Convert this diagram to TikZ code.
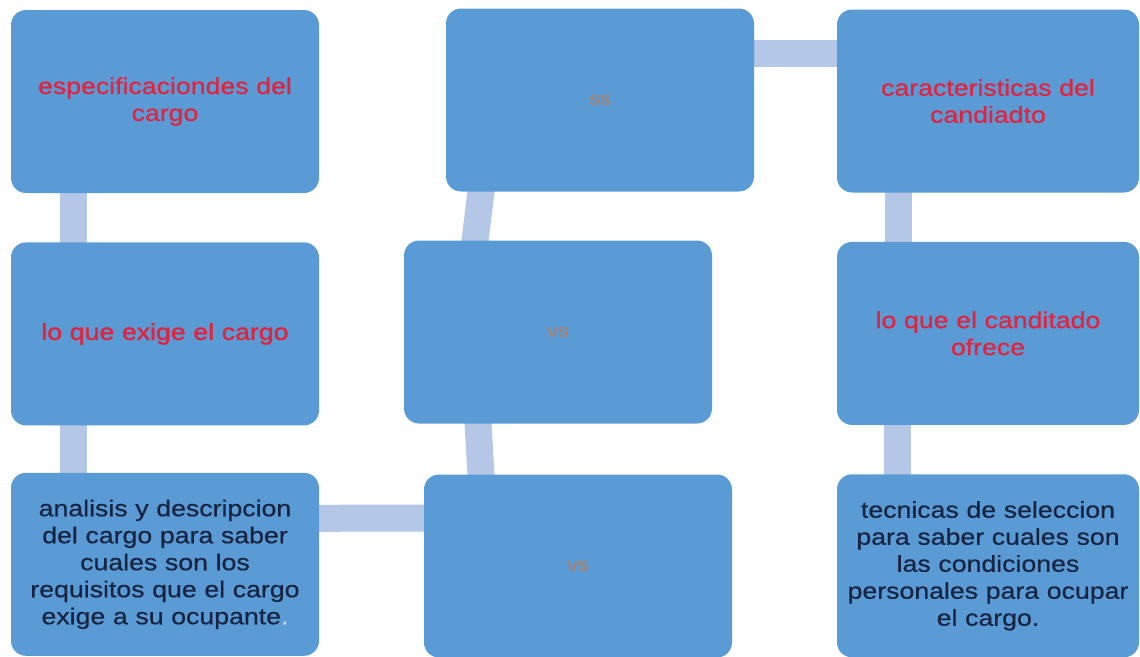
\documentclass[tikz,border=0pt]{standalone}
\usepackage{fontspec}
\usepackage{xcolor}
\newfontfamily\cardfont{Liberation Sans}[FakeStretch=1.16,FakeBold=0.6]
\newfontfamily\cardfontheavy{Liberation Sans}[FakeStretch=1.16,FakeBold=1.6]
\usetikzlibrary{positioning,backgrounds}
\definecolor{cardblue}{HTML}{5B9BD5}
\definecolor{linkblue}{HTML}{B4C7E7}
\definecolor{headred}{HTML}{E0243F}
\definecolor{notenavy}{HTML}{172542}
\definecolor{vsgray}{HTML}{A8826E}
\definecolor{dotlight}{HTML}{C8D8F0}

\begin{document}
\begin{tikzpicture}[x=1pt,y=-1pt,
        card/.style={fill=cardblue, rounded corners=15pt, minimum width=308pt, minimum height=183pt,
            inner sep=0pt, text width=296pt, align=center, font=\cardfont\fontsize{23}{27}\selectfont},
        head/.style={card, text=headred},
        note/.style={card, text=notenavy},
        versus/.style={card, text=vsgray, font=\cardfont\fontsize{19}{21}\selectfont},
        link/.style={linkblue, line width=27pt, shorten <=-4pt, shorten >=-4pt}]
    \useasboundingbox (0,0) rectangle (1140,656);
    % left column
    \node[head] (espec) at (165,101.5) {especificaciondes del\\cargo};
    \node[head, font=\cardfontheavy\fontsize{23}{27}\selectfont, below=49pt of espec] (exige) {lo que exige el cargo};
    \node[note, below=47pt of exige] (analisis) {analisis y descripcion\\del cargo para saber\\cuales son los\\requisitos que el cargo\\exige a su ocupante\textcolor{dotlight}{.}};
    % middle column
    \node[versus] (vstop) at (600,100) {ss};
    \node[versus] (vsmid) at (558,332) {vs};
    \node[versus] (vsbot) at (578,566) {vs};
    % right column
    \node[head, minimum width=302pt] (caract) at (988,101) {caracteristicas del\\candiadto};
    \node[head, minimum width=302pt, below=49pt of caract] (ofrece) {lo que el canditado\\ofrece};
    \node[note, minimum width=302pt, below=49pt of ofrece] (tecnicas) {tecnicas de seleccion\\para saber cuales son\\las condiciones\\personales para ocupar\\el cargo.};
    \begin{scope}[on background layer]
        \draw[link] ([xshift=-91.5pt]espec.south) -- ([xshift=-91.5pt]exige.north);
        \draw[link] ([xshift=-91.5pt]exige.south) -- ([xshift=-91.5pt]analisis.north);
        \draw[link] ([yshift=46pt]analisis.east) -- ([yshift=48pt]vsbot.west);
        \draw[link] ([xshift=-97pt]vsbot.north) -- ([xshift=-80pt]vsmid.south);
        \draw[link] ([xshift=-83pt]vsmid.north) -- ([xshift=-119pt]vstop.south);
        \draw[link] ([yshift=47pt]vstop.east) -- ([yshift=48pt]caract.west);
        \draw[link] ([xshift=-90pt]caract.south) -- ([xshift=-90pt]ofrece.north);
        \draw[link] ([xshift=-91pt]ofrece.south) -- ([xshift=-91pt]tecnicas.north);
    \end{scope}
\end{tikzpicture}
\end{document}
